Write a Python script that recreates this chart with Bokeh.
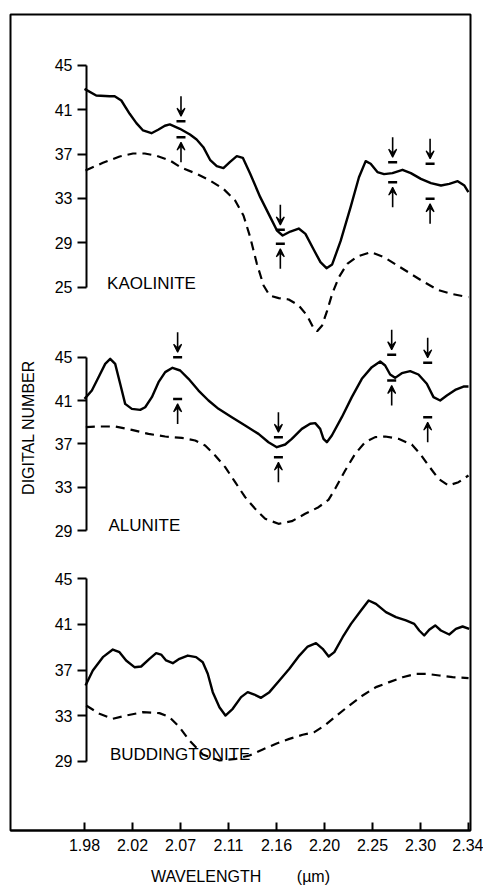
from bokeh.plotting import figure
from bokeh.models import Range1d, LinearAxis, FixedTicker, Label, Arrow, VeeHead, ColumnDataSource
from bokeh.embed import file_html
from bokeh.resources import INLINE

FONT = "Liberation Sans"

# x positions are in units of the (evenly spaced) wavelength tick marks: 0 -> 1.98, 8 -> 2.34
wavelength_ticks = [0, 1, 2, 3, 4, 5, 6, 7, 8]
wavelength_labels = ["1.98", "2.02", "2.07", "2.11", "2.16", "2.20", "2.25", "2.30", "2.34"]

kao_ticks = [25, 29, 33, 37, 41, 45]
alu_ticks = [29, 33, 37, 41, 45]
bud_ticks = [29, 33, 37, 41, 45]

# ---------------- KAOLINITE ----------------
kao_solid_x = [0.0, 0.244, 0.523, 0.628, 0.767, 0.941, 1.081, 1.22, 1.395, 1.534, 1.674, 1.778,
               1.987, 2.197, 2.336, 2.476, 2.615, 2.755, 2.894, 3.033, 3.173, 3.298, 3.452, 3.661,
               3.87, 4.01, 4.128, 4.289, 4.463, 4.603, 4.777, 4.916, 5.042, 5.16, 5.335, 5.544,
               5.718, 5.858, 5.962, 6.102, 6.241, 6.416, 6.625, 6.799, 7.008, 7.218, 7.427, 7.601,
               7.775, 7.915, 7.998]
kao_solid_y = [42.89, 42.29, 42.23, 42.23, 41.84, 40.64, 39.80, 39.14, 38.89, 39.20, 39.56, 39.68,
               39.29, 38.77, 38.32, 37.63, 36.49, 35.92, 35.74, 36.31, 36.82, 36.67, 35.23, 33.12,
               31.32, 30.11, 29.66, 30.02, 30.29, 29.81, 28.37, 27.26, 26.71, 27.05, 29.15, 32.22,
               34.92, 36.37, 36.13, 35.38, 35.20, 35.29, 35.59, 35.29, 34.77, 34.38, 34.17, 34.32,
               34.56, 34.17, 33.57]
kao_dash_x = [0.021, 0.384, 0.732, 1.011, 1.255, 1.499, 1.778, 2.022, 2.336, 2.615, 2.894, 3.138,
              3.312, 3.452, 3.591, 3.731, 3.856, 4.045, 4.254, 4.463, 4.637, 4.763, 4.847, 4.951,
              5.056, 5.16, 5.3, 5.474, 5.683, 5.962, 6.241, 6.52, 6.799, 7.078, 7.357, 7.636, 7.998]
kao_dash_y = [35.53, 36.22, 36.79, 37.06, 37.06, 36.85, 36.43, 35.77, 35.23, 34.62, 33.87, 32.82,
              31.47, 29.51, 27.11, 25.15, 24.25, 24.01, 23.89, 23.35, 22.44, 21.39, 21.03, 21.54,
              22.89, 24.40, 25.90, 27.11, 27.77, 28.16, 27.71, 26.95, 26.20, 25.45, 24.76, 24.40, 24.10]
kao_mark_x = [2.01, 4.08, 6.42, 7.20]
kao_mark_upper = [39.98, 30.17, 36.28, 36.13]
kao_mark_lower = [38.53, 28.91, 34.47, 32.97]

# ---------------- ALUNITE ----------------
alu_solid_x = [0.0, 0.153, 0.292, 0.431, 0.535, 0.639, 0.743, 0.847, 0.986, 1.16, 1.264, 1.403,
               1.542, 1.681, 1.833, 1.993, 2.167, 2.375, 2.583, 2.792, 3.069, 3.347, 3.625, 3.833,
               4.007, 4.181, 4.319, 4.528, 4.701, 4.806, 4.91, 4.979, 5.049, 5.153, 5.361, 5.569,
               5.778, 5.986, 6.16, 6.264, 6.368, 6.472, 6.611, 6.785, 6.958, 7.132, 7.271, 7.41,
               7.549, 7.722, 7.896, 8.0]
alu_solid_y = [41.15, 41.92, 43.15, 44.38, 44.85, 44.38, 42.54, 40.69, 40.23, 40.14, 40.38, 41.31,
               42.69, 43.62, 44.02, 43.77, 43.00, 41.92, 41.00, 40.23, 39.46, 38.69, 37.92, 37.15,
               36.69, 36.94, 37.46, 38.38, 38.85, 38.91, 38.38, 37.46, 37.15, 37.77, 39.46, 41.31,
               43.00, 44.08, 44.60, 44.23, 43.40, 43.09, 43.52, 43.71, 43.40, 42.54, 41.31, 41.00,
               41.46, 41.98, 42.29, 42.29]
alu_dash_x = [0.028, 0.292, 0.639, 0.986, 1.333, 1.681, 2.028, 2.306, 2.514, 2.722, 2.931, 3.139,
              3.347, 3.556, 3.764, 4.042, 4.319, 4.597, 4.875, 5.083, 5.222, 5.431, 5.639, 5.847,
              6.056, 6.264, 6.542, 6.819, 6.993, 7.167, 7.375, 7.583, 7.792, 8.0]
alu_dash_y = [38.54, 38.60, 38.60, 38.29, 37.92, 37.68, 37.55, 37.31, 36.85, 35.92, 34.85, 33.46,
              32.08, 31.00, 30.08, 29.62, 29.86, 30.54, 31.15, 31.83, 32.85, 34.54, 36.08, 37.15,
              37.62, 37.68, 37.46, 36.94, 36.08, 35.00, 33.77, 33.15, 33.46, 34.08]
alu_mark_x = [1.94, 4.04, 6.40, 7.15]
alu_mark_upper = [45.0, 37.62, 45.22, 44.48]
alu_mark_lower = [41.15, 35.77, 42.85, 39.46]

# ---------------- BUDDINGTONITE ----------------
bud_solid_x = [0.021, 0.173, 0.382, 0.59, 0.729, 0.867, 1.041, 1.18, 1.353, 1.492, 1.596, 1.7,
               1.839, 1.978, 2.151, 2.325, 2.464, 2.568, 2.672, 2.811, 2.936, 3.088, 3.262, 3.4,
               3.539, 3.678, 3.852, 4.06, 4.268, 4.476, 4.65, 4.823, 4.962, 5.087, 5.205, 5.378,
               5.552, 5.76, 5.92, 6.072, 6.28, 6.489, 6.697, 6.87, 6.974, 7.078, 7.182, 7.307,
               7.425, 7.599, 7.738, 7.877, 8.015]
bud_solid_y = [35.64, 36.96, 38.13, 38.80, 38.57, 37.84, 37.25, 37.31, 37.98, 38.48, 38.36, 37.84,
               37.60, 37.98, 38.27, 38.13, 37.69, 36.67, 35.06, 33.74, 33.01, 33.60, 34.62, 35.06,
               34.85, 34.56, 35.06, 36.08, 37.11, 38.27, 39.06, 39.36, 38.86, 38.19, 38.57, 39.88,
               41.05, 42.22, 43.10, 42.81, 42.08, 41.64, 41.35, 41.05, 40.47, 40.03, 40.53, 40.91,
               40.47, 40.12, 40.61, 40.82, 40.61]
bud_dash_x = [0.035, 0.312, 0.59, 0.867, 1.214, 1.561, 1.77, 1.978, 2.186, 2.464, 2.811, 3.158,
              3.435, 3.713, 3.991, 4.268, 4.545, 4.788, 5.031, 5.239, 5.517, 5.795, 6.072, 6.35,
              6.627, 6.905, 7.113, 7.391, 7.669, 8.001]
bud_dash_y = [33.89, 33.16, 32.72, 33.01, 33.30, 33.22, 32.87, 31.99, 30.82, 29.59, 29.06, 29.21,
              29.50, 30.03, 30.53, 30.96, 31.32, 31.55, 32.22, 32.95, 33.89, 34.77, 35.50, 35.94,
              36.37, 36.67, 36.67, 36.52, 36.37, 36.29]

FRAME_H = 816
FRAME_W = 460

p = figure(width=483, height=892, x_range=Range1d(-1.542, 8.042), y_range=Range1d(-24.02, 49.60),
           output_backend="svg", toolbar_location=None, y_axis_location=None,
           x_axis_location="below", min_border_left=10, min_border_right=13,
           min_border_top=14, min_border_bottom=62)
p.extra_y_ranges = {"alu": Range1d(1.31, 76.63), "bud": Range1d(22.92, 94.52)}
p.grid.visible = False
p.outline_line_color = "black"
p.outline_line_width = 2
p.background_fill_color = "white"
p.border_fill_color = "white"

xa = p.xaxis[0]
xa.ticker = FixedTicker(ticks=wavelength_ticks)
xa.major_label_overrides = {t: lab for t, lab in zip(wavelength_ticks, wavelength_labels)}
xa.major_tick_in = 8
xa.major_tick_out = 0
xa.major_tick_line_width = 2
xa.axis_line_width = 2
xa.minor_tick_line_color = None
xa.major_label_standoff = 8
xa.major_label_text_font = FONT
xa.major_label_text_font_size = "16px"
xa.major_label_text_color = "black"
xa.axis_label = "WAVELENGTH\u00a0\u00a0\u00a0\u00a0\u00a0\u00a0\u00a0\u00a0(µm)"
xa.axis_label_standoff = 14
xa.axis_label_text_font = FONT
xa.axis_label_text_font_size = "16px"
xa.axis_label_text_font_style = "normal"
xa.axis_label_text_color = "black"

panels = [
    ("default", kao_ticks),
    ("alu", alu_ticks),
    ("bud", bud_ticks),
]
for name, ticks in panels:
    ax = LinearAxis(y_range_name=name, fixed_location=0.04, bounds=(min(ticks), max(ticks)),
                    ticker=FixedTicker(ticks=ticks))
    ax.axis_line_width = 2
    ax.major_tick_line_width = 2
    ax.major_tick_out = 9
    ax.major_tick_in = 0
    ax.minor_tick_line_color = None
    ax.major_label_standoff = 5
    ax.major_label_text_font = FONT
    ax.major_label_text_font_size = "16px"
    ax.major_label_text_color = "black"
    p.add_layout(ax, "left")

series = [
    ("default", kao_solid_x, kao_solid_y, kao_dash_x, kao_dash_y),
    ("alu", alu_solid_x, alu_solid_y, alu_dash_x, alu_dash_y),
    ("bud", bud_solid_x, bud_solid_y, bud_dash_x, bud_dash_y),
]
for name, sx, sy, dx, dy in series:
    p.line(sx, sy, y_range_name=name, line_color="black", line_width=2.4, line_join="round")
    p.line(dx, dy, y_range_name=name, line_color="black", line_width=2.2, line_dash="9 6")

GAP_PX = 5
LEN_PX = 20
marks = [
    ("default", p.y_range, kao_mark_x, kao_mark_upper, kao_mark_lower),
    ("alu", p.extra_y_ranges["alu"], alu_mark_x, alu_mark_upper, alu_mark_lower),
]
for name, rng, mx, mu, ml in marks:
    upp = (rng.end - rng.start) / FRAME_H
    p.scatter(mx + mx, mu + ml, y_range_name=name, marker="dash", size=9,
              line_color="black", line_width=2.5)
    down = ColumnDataSource(dict(x=mx, y0=[v + (GAP_PX + LEN_PX) * upp for v in mu],
                                 y1=[v + GAP_PX * upp for v in mu]))
    up = ColumnDataSource(dict(x=mx, y0=[v - (GAP_PX + LEN_PX) * upp for v in ml],
                               y1=[v - GAP_PX * upp for v in ml]))
    for src in (down, up):
        p.add_layout(Arrow(end=VeeHead(size=8, line_color="black", line_width=1.2, fill_color="black"),
                           source=src, x_start="x", y_start="y0", x_end="x", y_end="y1",
                           line_color="black", line_width=1.6, y_range_name=name))

lab_kw = dict(text_font=FONT, text_font_size="17px", text_color="black", text_baseline="middle")
p.add_layout(Label(x=0.47, y=25.3, text="KAOLINITE", y_range_name="default", **lab_kw))
p.add_layout(Label(x=0.50, y=29.46, text="ALUNITE", y_range_name="alu", **lab_kw))
p.add_layout(Label(x=0.53, y=29.56, text="BUDDINGTONITE", y_range_name="bud", **lab_kw))

p.add_layout(Label(x=-1.158, y=38.51, text="DIGITAL NUMBER", y_range_name="alu", angle=90,
                   angle_units="deg", text_align="center", text_baseline="middle",
                   text_font=FONT, text_font_size="16px", text_color="black"))

open("out.html", "w").write(file_html(p, INLINE))
